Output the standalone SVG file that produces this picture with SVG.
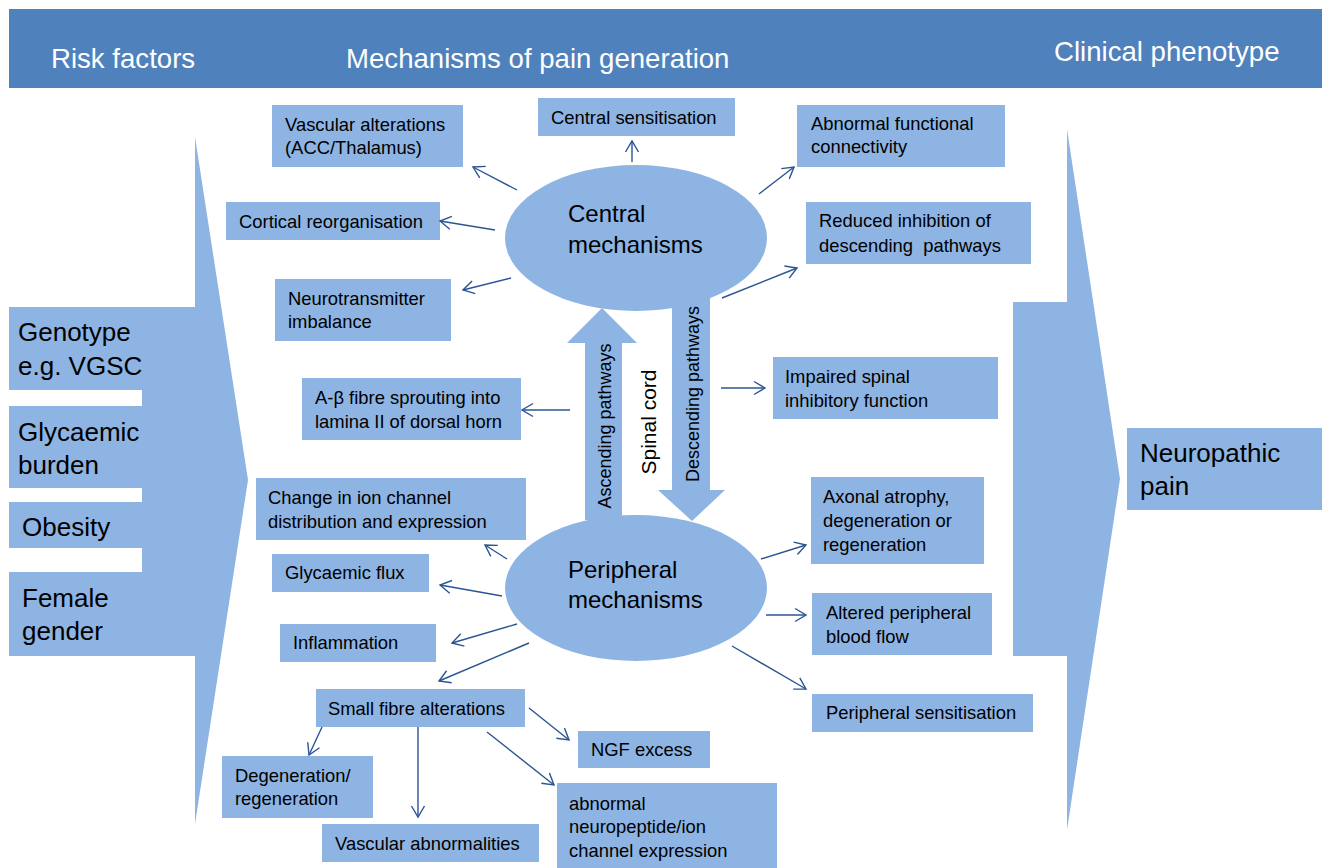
<svg xmlns="http://www.w3.org/2000/svg" width="1322" height="868" viewBox="0 0 1322 868">
<defs>
<style>
.hdr{fill:#4F81BD}
.bx{fill:#8EB4E3}
.ht{font-family:"Liberation Sans",Arial,sans-serif;font-size:27.6px;fill:#ffffff}
.t{font-family:"Liberation Sans",Arial,sans-serif;font-size:18.4px;fill:#000000}
.tl{font-family:"Liberation Sans",Arial,sans-serif;font-size:26px;fill:#000000}
.te{font-family:"Liberation Sans",Arial,sans-serif;font-size:24px;fill:#000000}
.tr{font-family:"Liberation Sans",Arial,sans-serif;font-size:18px;fill:#000000}
.ts{font-family:"Liberation Sans",Arial,sans-serif;font-size:21px;fill:#000000}
.c{stroke:#2A5592;stroke-width:1.4;fill:none;marker-end:url(#ah)}
</style>
<marker id="ah" markerUnits="userSpaceOnUse" markerWidth="16" markerHeight="16" viewBox="-12 -8 14 16" refX="0" refY="0" orient="auto">
<path d="M-11,-6.5 L0,0 L-11,6.5" fill="none" stroke="#2A5592" stroke-width="1.4"/>
</marker>
</defs>
<rect x="0" y="0" width="1322" height="868" fill="#ffffff"/>

<g id="header">
<rect class="hdr" x="9" y="9" width="1313" height="79"/>
<text class="ht" x="51" y="68">Risk factors</text>
<text class="ht" x="346" y="68">Mechanisms of pain generation</text>
<text class="ht" x="1054" y="61">Clinical phenotype</text>
</g>

<g id="risk-arrow">
<polygon class="bx" points="142,307 195,307 195,137 248,480 195,824 195,656 142,656"/>
</g>
<g id="genotype"><rect class="bx" x="9" y="307" width="160" height="83"/>
<text class="tl" x="18" y="341">Genotype</text><text class="tl" x="18" y="375">e.g. VGSC</text></g>
<g id="glycaemic-burden"><rect class="bx" x="9" y="406" width="140" height="82"/>
<text class="tl" x="18" y="441">Glycaemic</text><text class="tl" x="18" y="474">burden</text></g>
<g id="obesity"><rect class="bx" x="9" y="502" width="140" height="46"/>
<text class="tl" x="22" y="536">Obesity</text></g>
<g id="female-gender"><rect class="bx" x="9" y="572" width="140" height="84"/>
<text class="tl" x="22" y="607">Female</text><text class="tl" x="22" y="640">gender</text></g>

<g id="phenotype-arrow">
<polygon class="bx" points="1013,302 1067,302 1067,129 1120,479 1067,830 1067,656 1013,656"/>
</g>
<g id="neuropathic-pain"><rect class="bx" x="1127" y="428" width="195" height="82"/>
<text class="tl" x="1140" y="462">Neuropathic</text><text class="tl" x="1140" y="495">pain</text></g>

<g id="spinal-cord">
<polygon class="bx" points="585,520 585,343 567,343 602,308 637,343 622,343 622,520"/>
<polygon class="bx" points="672,295 710,295 710,490 725,490 692,521 658,490 672,490"/>
<text class="tr" transform="translate(611,426) rotate(-90)" text-anchor="middle">Ascending pathways</text>
<text class="ts" transform="translate(656,422) rotate(-90)" text-anchor="middle">Spinal cord</text>
<text class="tr" transform="translate(699,394) rotate(-90)" text-anchor="middle">Descending pathways</text>
</g>

<g id="central-mechanisms"><ellipse class="bx" cx="636" cy="238" rx="131" ry="73"/>
<text class="te" x="568" y="222">Central</text><text class="te" x="568" y="253">mechanisms</text></g>
<g id="peripheral-mechanisms"><ellipse class="bx" cx="636" cy="588" rx="131" ry="73"/>
<text class="te" x="568" y="578">Peripheral</text><text class="te" x="568" y="608">mechanisms</text></g>

<g id="vascular-alterations"><rect class="bx" x="272" y="105" width="191" height="62"/>
<text class="t" x="285" y="131">Vascular alterations</text><text class="t" x="285" y="154">(ACC/Thalamus)</text></g>
<g id="central-sensitisation"><rect class="bx" x="538" y="98" width="197" height="38"/>
<text class="t" x="551" y="124">Central sensitisation</text></g>
<g id="abnormal-functional-connectivity"><rect class="bx" x="797" y="105" width="208" height="62"/>
<text class="t" x="811" y="130">Abnormal functional</text><text class="t" x="811" y="153">connectivity</text></g>
<g id="cortical-reorganisation"><rect class="bx" x="226" y="202" width="214" height="38"/>
<text class="t" x="239" y="228">Cortical reorganisation</text></g>
<g id="reduced-inhibition"><rect class="bx" x="806" y="202" width="225" height="62"/>
<text class="t" x="819" y="227">Reduced inhibition of</text><text class="t" x="819" y="252" xml:space="preserve">descending  pathways</text></g>
<g id="neurotransmitter-imbalance"><rect class="bx" x="275" y="279" width="176" height="62"/>
<text class="t" x="288" y="305">Neurotransmitter</text><text class="t" x="288" y="328">imbalance</text></g>
<g id="a-beta-sprouting"><rect class="bx" x="302" y="378" width="219" height="62"/>
<text class="t" x="315" y="404">A-β fibre sprouting into</text><text class="t" x="315" y="428">lamina II of dorsal horn</text></g>
<g id="impaired-spinal"><rect class="bx" x="773" y="357" width="225" height="62"/>
<text class="t" x="785" y="383">Impaired spinal</text><text class="t" x="785" y="407">inhibitory function</text></g>
<g id="ion-channel"><rect class="bx" x="256" y="478" width="270" height="62"/>
<text class="t" x="268" y="504">Change in ion channel</text><text class="t" x="268" y="528">distribution and expression</text></g>
<g id="glycaemic-flux"><rect class="bx" x="272" y="554" width="157" height="38"/>
<text class="t" x="285" y="579">Glycaemic flux</text></g>
<g id="inflammation"><rect class="bx" x="280" y="624" width="156" height="38"/>
<text class="t" x="293" y="649">Inflammation</text></g>
<g id="small-fibre-alterations"><rect class="bx" x="316" y="689" width="209" height="38"/>
<text class="t" x="328" y="715">Small fibre alterations</text></g>
<g id="ngf-excess"><rect class="bx" x="578" y="731" width="132" height="37"/>
<text class="t" x="591" y="756">NGF excess</text></g>
<g id="degeneration-regeneration"><rect class="bx" x="222" y="756" width="151" height="62"/>
<text class="t" x="235" y="782">Degeneration/</text><text class="t" x="235" y="805">regeneration</text></g>
<g id="vascular-abnormalities"><rect class="bx" x="322" y="824" width="217" height="38"/>
<text class="t" x="335" y="850">Vascular abnormalities</text></g>
<g id="abnormal-neuropeptide"><rect class="bx" x="557" y="783" width="220" height="85"/>
<text class="t" x="569" y="810">abnormal</text><text class="t" x="569" y="833">neuropeptide/ion</text><text class="t" x="569" y="857">channel expression</text></g>
<g id="axonal-atrophy"><rect class="bx" x="811" y="477" width="173" height="87"/>
<text class="t" x="823" y="503">Axonal atrophy,</text><text class="t" x="823" y="527">degeneration or</text><text class="t" x="823" y="551">regeneration</text></g>
<g id="altered-blood-flow"><rect class="bx" x="812" y="593" width="180" height="62"/>
<text class="t" x="826" y="619">Altered peripheral</text><text class="t" x="826" y="643">blood flow</text></g>
<g id="peripheral-sensitisation"><rect class="bx" x="812" y="694" width="221" height="38"/>
<text class="t" x="826" y="719">Peripheral sensitisation</text></g>

<g id="connectors">
<line class="c" x1="632" y1="162" x2="632" y2="141"/>
<line class="c" x1="517" y1="190" x2="473" y2="167"/>
<line class="c" x1="495" y1="230" x2="440" y2="221"/>
<line class="c" x1="511" y1="278" x2="463" y2="290"/>
<line class="c" x1="759" y1="194" x2="794" y2="167"/>
<line class="c" x1="722" y1="298" x2="797" y2="268"/>
<line class="c" x1="570" y1="410" x2="522" y2="410"/>
<line class="c" x1="721" y1="388" x2="765" y2="388"/>
<line class="c" x1="507" y1="559" x2="485" y2="545"/>
<line class="c" x1="502" y1="596" x2="440" y2="585"/>
<line class="c" x1="517" y1="624" x2="452" y2="643"/>
<line class="c" x1="529" y1="643" x2="439" y2="681"/>
<line class="c" x1="761" y1="559" x2="806" y2="545"/>
<line class="c" x1="766" y1="615" x2="806" y2="615"/>
<line class="c" x1="732" y1="646" x2="806" y2="689"/>
<line class="c" x1="322" y1="727" x2="309" y2="755"/>
<line class="c" x1="418" y1="727" x2="418" y2="817"/>
<line class="c" x1="529" y1="708" x2="569" y2="740"/>
<line class="c" x1="487" y1="732" x2="554" y2="785"/>
</g>
</svg>
